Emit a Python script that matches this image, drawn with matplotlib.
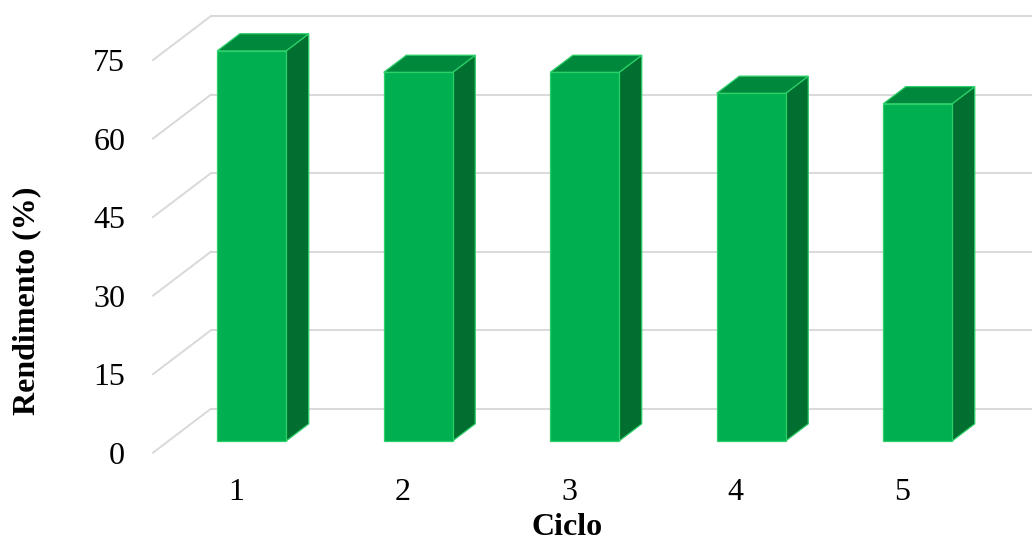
import matplotlib
matplotlib.use("Agg")
import matplotlib.pyplot as plt
from matplotlib.patches import Polygon
from matplotlib.transforms import Affine2D, IdentityTransform
import numpy as np

# Yield per reuse cycle
cycles = ["1", "2", "3", "4", "5"]
yield_pct = [74.5, 70.4, 70.4, 66.4, 64.4]
y_ticks = [0, 15, 30, 45, 60, 75]

W, H, DPI = 1032, 543, 100
SERIF = ["Liberation Serif", "DejaVu Serif"]
FS = 23

FRONT = "#00b050"
TOP = "#00893d"
SIDE = "#006f2f"
EDGE = "#2ccf68"
GRID = "#d9d9d9"

fig = plt.figure(figsize=(W / DPI, H / DPI), dpi=DPI)
fig.patch.set_facecolor("white")

# front plane of the 3-D box (category / value coordinates)
ax = fig.add_axes([153 / W, 90.3 / H, 832.5 / W, 392.7 / H])
ax.set_xlim(0.5, 5.5)
ax.set_ylim(0, 75)
ax.patch.set_visible(False)
for s in ax.spines.values():
    s.set_visible(False)

# oblique depth offset in pixels for the full depth of the box
DX, DY = 58.0, 44.0


def depth(z):
    return ax.transData + Affine2D().translate(DX * z, DY * z)


def proj(x, y, z):
    px, py = ax.transData.transform((x, y))
    return (px + DX * z, py + DY * z)


# back wall and side wall gridlines
for v in y_ticks:
    ax.plot([0.5, 5.5], [v, v], transform=depth(1.0), color=GRID,
            lw=1.4, clip_on=False, zorder=1, solid_capstyle="butt")
    p0, p1 = proj(0.5, v, 0.0), proj(0.5, v, 1.0)
    ax.plot([p0[0], p1[0]], [p0[1], p1[1]], transform=IdentityTransform(),
            color=GRID, lw=1.4, clip_on=False, zorder=1)

# 3-D columns
BAR_W = 0.414
Z0, Z1 = 0.266, 0.656
for i, v in enumerate(yield_pct):
    xc = i + 1
    x0, x1 = xc - BAR_W / 2, xc + BAR_W / 2
    side = [proj(x1, 0, Z0), proj(x1, 0, Z1), proj(x1, v, Z1), proj(x1, v, Z0)]
    top = [proj(x0, v, Z0), proj(x1, v, Z0), proj(x1, v, Z1), proj(x0, v, Z1)]
    ax.add_patch(Polygon(side, closed=True, transform=IdentityTransform(),
                         facecolor=SIDE, edgecolor=EDGE, lw=0.9,
                         clip_on=False, zorder=3))
    ax.add_patch(Polygon(top, closed=True, transform=IdentityTransform(),
                         facecolor=TOP, edgecolor=EDGE, lw=0.9,
                         clip_on=False, zorder=3))
    ax.add_patch(Polygon([(x0, 0), (x1, 0), (x1, v), (x0, v)], closed=True,
                         transform=depth(Z0), facecolor=FRONT, edgecolor=EDGE,
                         lw=0.9, clip_on=False, zorder=4))

# axis ticks and labels
ax.set_yticks(y_ticks)
ax.set_yticklabels([str(t) for t in y_ticks])
ax.set_xticks(range(1, len(cycles) + 1))
ax.set_xticklabels(cycles)
ax.tick_params(axis="y", length=0, pad=20)
ax.tick_params(axis="x", length=0, pad=18)
for lab in ax.get_xticklabels() + ax.get_yticklabels():
    lab.set_fontfamily(SERIF)
    lab.set_fontsize(FS)
    lab.set_color("black")

fig.text(567 / W, 8 / H, "Ciclo", ha="center", va="baseline",
         fontsize=FS, fontweight="bold", family=SERIF)
fig.text(27 / W, (H - 300.5) / H, "Rendimento (%)", ha="center", va="center",
         rotation=90, fontsize=FS, fontweight="bold", family=SERIF)

fig.savefig("out.png", dpi=DPI, facecolor="white")
